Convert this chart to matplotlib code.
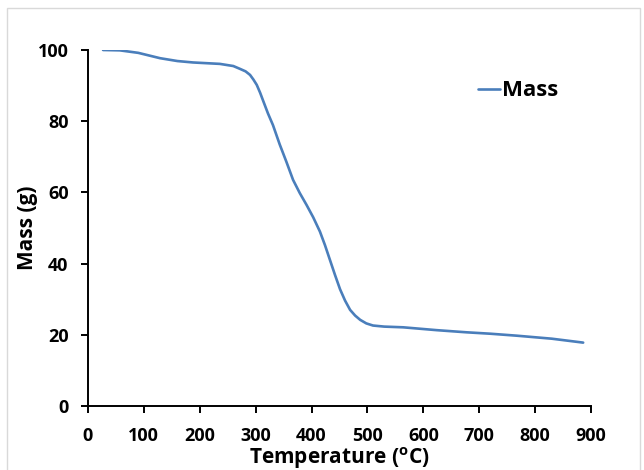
import matplotlib
matplotlib.use("Agg")
import matplotlib.pyplot as plt
from matplotlib.patches import Rectangle

plt.rcParams['font.family'] = ['Open Sans', 'DejaVu Sans']
plt.rcParams['mathtext.fontset'] = 'custom'
plt.rcParams['mathtext.rm'] = 'Open Sans:bold'
plt.rcParams['mathtext.bf'] = 'Open Sans:bold'

# TGA curve
temp = [27, 57, 90, 129, 160, 188, 236, 260, 272, 282, 290, 296, 302, 308, 314,
        322, 331, 343, 355, 367, 379, 391, 403, 415, 424, 433, 442, 451, 460,
        469, 478, 487, 498, 510, 530, 564, 624, 677, 720, 767, 830, 886]
mass = [100, 99.9, 99.2, 97.7, 96.9, 96.5, 96.1, 95.5, 94.7, 94.0, 93.0, 91.7,
        90.2, 88.0, 85.5, 82.2, 78.9, 73.5, 68.6, 63.5, 59.8, 56.5, 53.0, 49.0,
        45.2, 41.0, 36.8, 32.8, 29.6, 27.0, 25.4, 24.2, 23.2, 22.6, 22.3, 22.1,
        21.3, 20.7, 20.3, 19.75, 18.9, 17.8]

xticks = [0, 100, 200, 300, 400, 500, 600, 700, 800, 900]
yticks = [0, 20, 40, 60, 80, 100]

fig = plt.figure(figsize=(6.44, 4.70), dpi=100)
ax = fig.add_axes([0.1366, 0.1362, 0.7811, 0.7574])

ax.plot(temp, mass, color='#4a7ebb', lw=1.9, label='Mass',
        solid_joinstyle='round', solid_capstyle='round')

ax.set_xlim(0, 900)
ax.set_ylim(0, 100)
ax.set_xticks(xticks)
ax.set_yticks(yticks)
for lab in ax.get_xticklabels() + ax.get_yticklabels():
    lab.set_fontweight('bold')
    lab.set_fontsize(13)

for s in ['top', 'right']:
    ax.spines[s].set_visible(False)
for s in ['left', 'bottom']:
    ax.spines[s].set_linewidth(1.4)
    ax.spines[s].set_color('black')
ax.tick_params(direction='out', length=5, width=1.4)
ax.tick_params(axis='x', pad=10)
ax.tick_params(axis='y', pad=9)

ax.set_xlabel(r'Temperature ($\mathbf{^{o}}$C)', fontsize=15, fontweight='bold', labelpad=0)
ax.set_ylabel('Mass (g)', fontsize=15, fontweight='bold', labelpad=0)

ax.legend(loc='center left', bbox_to_anchor=(0.735, 0.885), frameon=False,
          handlelength=1.0, handletextpad=0.1, prop={'size': 16, 'weight': 'bold'})

# light chart border
fig.patches.append(Rectangle((7 / 644, -0.05), 633 / 644, 1 - 8 / 470 + 0.05,
                             transform=fig.transFigure, fill=False,
                             edgecolor='#d9d9d9', lw=1.0))

fig.savefig('out.png', dpi=100)
